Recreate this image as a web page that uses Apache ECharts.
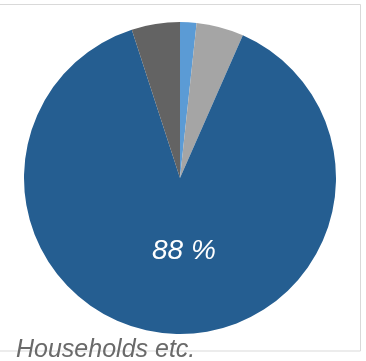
<!DOCTYPE html>
<html>
<head>
<meta charset="utf-8">
<script src="https://cdn.jsdelivr.net/npm/echarts@6/dist/echarts.min.js"></script>
<style>
  html, body { margin: 0; padding: 0; background: #ffffff; }
  #chart { width: 366px; height: 361px; }
</style>
</head>
<body>
<div id="chart"></div>
<script>
// Sector shares (percent), clockwise from 12 o'clock
const categories = ['Sector A', 'Sector B', 'Households etc.', 'Sector D'];
const shares = [1.7, 4.9, 88.4, 5.0];
const colors = ['#5B9BD5', '#A5A5A5', '#255E91', '#636363'];
const labelledIndex = 2;
const caption = 'Households etc.';

const chart = echarts.init(document.getElementById('chart'), null, { renderer: 'canvas' });

const data = categories.map((name, i) => ({
  name,
  value: shares[i],
  itemStyle: { color: colors[i] },
  label: {
    show: i === labelledIndex,
    position: 'inside',
    offset: [8, -8],
    formatter: p => Math.round(p.value) + ' %',
    color: '#ffffff',
    fontFamily: 'Liberation Sans, Arial, sans-serif',
    fontStyle: 'italic',
    fontSize: 28
  }
}));

chart.setOption({
  animation: false,
  backgroundColor: '#ffffff',
  graphic: [
    {
      type: 'rect',
      shape: { x: -2, y: 4.5, width: 362.5, height: 346.5 },
      style: { fill: 'none', stroke: '#d9d9d9', lineWidth: 1 },
      z: 0
    },
    {
      type: 'text',
      left: 16,
      top: 338,
      style: {
        text: caption,
        fill: '#6a6a6a',
        font: 'italic 25px "Liberation Sans", Arial, sans-serif'
      },
      z: 10
    }
  ],
  series: [{
    type: 'pie',
    center: [180, 178],
    radius: [0, 156],
    startAngle: 90,
    clockwise: true,
    avoidLabelOverlap: false,
    labelLine: { show: false },
    emphasis: { disabled: true },
    itemStyle: { borderWidth: 0 },
    data
  }]
});
</script>
</body>
</html>
